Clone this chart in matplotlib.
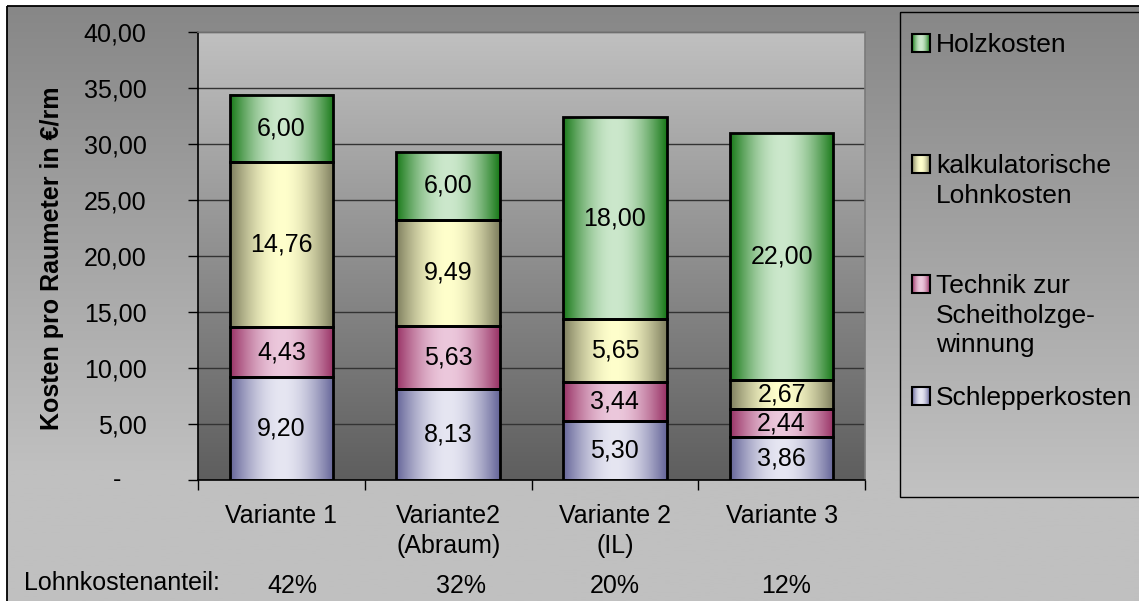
import numpy as np
import matplotlib.pyplot as plt
import matplotlib.transforms as mtransforms
from matplotlib.patches import Rectangle
from matplotlib.colors import to_rgb

plt.rcParams['font.family'] = ['Liberation Sans', 'DejaVu Sans']

# Kosten je Variante in EUR/rm
categories = [["Variante 1"], ["Variante2", "(Abraum)"], ["Variante 2", "(IL)"], ["Variante 3"]]
schlepper = [9.20, 8.13, 5.30, 3.86]
technik = [4.43, 5.63, 3.44, 2.44]
lohn = [14.76, 9.49, 5.65, 2.67]
holz = [6.00, 6.00, 18.00, 22.00]
lohnanteil = ["42%", "32%", "20%", "12%"]

series = [schlepper, technik, lohn, holz]
# (dunkler Rand, helle Mitte) je Reihe
shades = [("#666699", "#e6e6f2"), ("#993366", "#ecc8dc"),
          ("#7f7f5f", "#ffffcc"), ("#1a7a1a", "#cce8cc")]
legend_names = [["Holzkosten"], ["kalkulatorische", "Lohnkosten"],
                ["Technik zur", "Scheitholzge-", "winnung"], ["Schlepperkosten"]]
legend_shades = [shades[3], shades[2], shades[1], shades[0]]

FS = 18
FS_LEG = 19


def hgrad(dark, light, n=128):
    t = np.linspace(0, 1, n)
    w = np.sin(np.pi * t)[:, None]
    d, l = np.array(to_rgb(dark)), np.array(to_rgb(light))
    return (d + (l - d) * w)[None, :, :]


def vgrad(top, bottom, n=256, stop=1.0):
    t = np.clip(np.linspace(0, 1, n) / stop, 0, 1)[:, None]
    a, b = np.array(to_rgb(top)), np.array(to_rgb(bottom))
    return (a + (b - a) * t)[:, None, :]


fig = plt.figure(figsize=(11.39, 6.01), dpi=100)
fig.patch.set_facecolor('white')

# Hintergrund in Pixelkoordinaten
bg = fig.add_axes([0, 0, 1, 1])
bg.axis('off')
bg.imshow(vgrad('#878787', '#c0c0c0', stop=0.78), extent=(7, 1139, 601, 6), aspect='auto')
bg.add_patch(Rectangle((7, 6), 1140, 600, fill=False, ec='black', lw=1.3))

# Legendenkasten
lg = Rectangle((900, 12), 250, 485, fill=False, ec='black', lw=1.0, zorder=3)
im = bg.imshow(vgrad('#878787', '#c2c2c2'), extent=(900, 1150, 497, 12), aspect='auto', zorder=2)
im.set_clip_path(lg)
bg.add_patch(lg)
legend_baselines = [[52], [173, 203], [293, 323, 352], [405]]
for names, ys, (dark, light) in zip(legend_names, legend_baselines, legend_shades):
    y0 = ys[0]
    bg.imshow(hgrad(dark, light), extent=(912, 930, y0, y0 - 18), aspect='auto', zorder=4)
    bg.add_patch(Rectangle((912, y0 - 18), 18, 18, fill=False, ec='black', lw=1.5, zorder=5))
    for name, y in zip(names, ys):
        bg.text(936, y, name, ha='left', va='baseline', fontsize=FS_LEG, zorder=5)
bg.set_xlim(0, 1139)
bg.set_ylim(601, 0)

# Diagrammflaeche
ax = fig.add_axes([198 / 1139, 121 / 601, 667 / 1139, 448 / 601])
ax.set_facecolor('none')
ax.imshow(vgrad('#c0c0c0', '#5e5e5e'), extent=(-0.5, 3.5, 0, 40), aspect='auto', zorder=0)
ax.set_axisbelow(True)
ax.yaxis.grid(True, color='#333333', lw=1)

x = np.arange(len(categories))
bottom = np.zeros(len(categories))
for vals, (dark, light) in zip(series, shades):
    bars = ax.bar(x, vals, width=0.62, bottom=bottom, facecolor='none',
                  edgecolor='black', linewidth=2, zorder=3)
    for b, v in zip(bars, vals):
        x0, y0 = b.get_x(), b.get_y()
        ax.imshow(hgrad(dark, light), extent=(x0, x0 + b.get_width(), y0, y0 + b.get_height()),
                  aspect='auto', zorder=2)
        ax.text(x0 + b.get_width() / 2, y0 + b.get_height() / 2, f"{v:.2f}".replace('.', ','),
                ha='center', va='center', fontsize=FS, zorder=4)
    bottom += np.array(vals)

ax.set_xlim(-0.5, 3.5)
ax.set_ylim(0, 40)

yt = np.arange(0, 41, 5)
ax.set_yticks(yt)
ax.set_yticklabels([f"{v:.2f}".replace('.', ',') if v else "" for v in yt])
ax.tick_params(axis='y', direction='out', length=7, width=1, pad=30, labelsize=FS)
ax.set_xticks(np.arange(-0.5, 4, 1))
ax.set_xticklabels([])
ax.tick_params(axis='x', direction='out', length=7, width=1)

for side in ['left', 'bottom']:
    ax.spines[side].set_color('black')
    ax.spines[side].set_linewidth(1.2)
for side in ['top', 'right']:
    ax.spines[side].set_color('#7a7a7a')
    ax.spines[side].set_linewidth(1.2)

# Kategorienbeschriftung: x in Kategorien, y in Pixeln
xblend = mtransforms.blended_transform_factory(ax.transData, bg.transData)
for i, lines in enumerate(categories):
    for k, line in enumerate(lines):
        ax.text(i, 523 + 30 * k, line, transform=xblend, ha='center', va='baseline',
                fontsize=FS, clip_on=False)

# Zeile mit dem Lohnkostenanteil (Tabellenzellen unter dem Diagramm)
bg.text(24, 590, "Lohnkostenanteil:", ha='left', va='baseline', fontsize=FS)
for xp, p in zip([292, 461, 615, 786], lohnanteil):
    bg.text(xp, 593, p, ha='center', va='baseline', fontsize=FS)

yblend = mtransforms.blended_transform_factory(bg.transData, ax.transData)
ax.text(117, 0, "-", transform=yblend, ha='center', va='center', fontsize=FS, clip_on=False)

bg.text(52, 258, "Kosten pro Raumeter in €/rm", rotation=90, ha='center', va='center',
        fontsize=FS, fontweight='bold')

fig.savefig('out.png', dpi=100)
